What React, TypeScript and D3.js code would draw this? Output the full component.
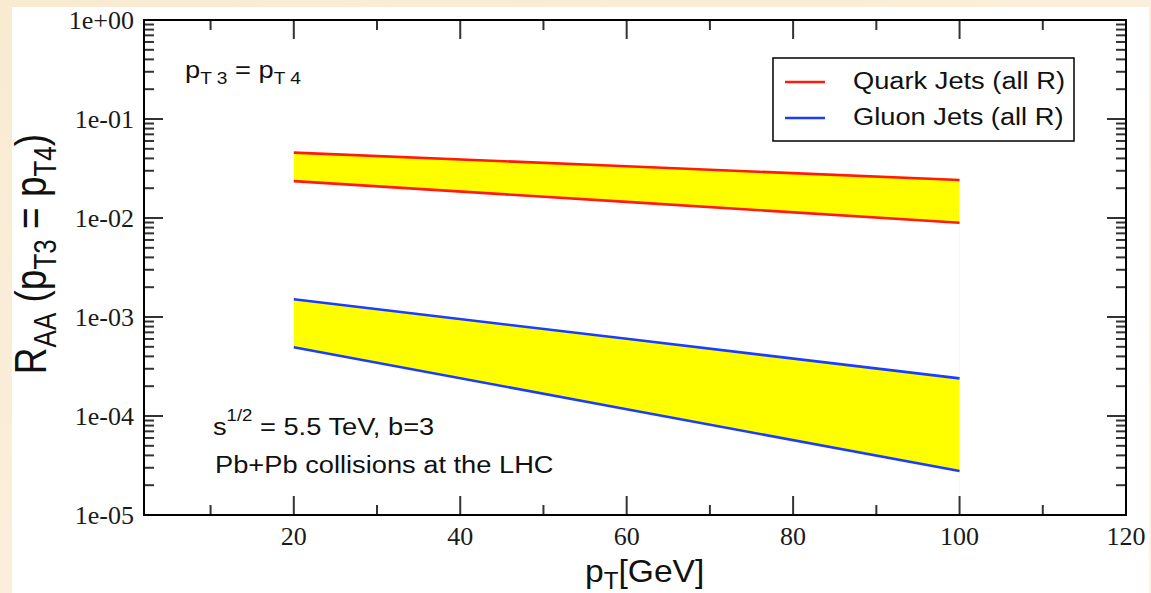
import React from "react";
import * as d3 from "d3";

// Transverse momentum points (GeV)
const ptValues = [20, 60, 100];
// Nuclear modification factor bands for p_T3 = p_T4
const quarkUpper = [0.0457, 0.0333, 0.0242];
const quarkLower = [0.0236, 0.01455, 0.00897];
const gluonUpper = [0.00151, 0.000602, 0.00024];
const gluonLower = [0.000494, 0.000117, 0.0000278];

const xMajorTicks = [20, 40, 60, 80, 100, 120];
const xMinorTicks = [10, 30, 50, 70, 90, 110];
const yDecades = [1e-5, 1e-4, 1e-3, 1e-2, 1e-1, 1];
const yTickLabels = ["1e-05", "1e-04", "1e-03", "1e-02", "1e-01", "1e+00"];

const W = 1151;
const H = 593;
const plot = { left: 144, right: 1126, top: 20, bottom: 515 };

const x = d3.scaleLinear().domain([2, 120]).range([plot.left, plot.right]);
const y = d3.scaleLog().domain([1e-5, 1]).range([plot.bottom, plot.top]);

const sans = "'Liberation Sans', Arial, sans-serif";
const serif = "'Liberation Serif', 'Times New Roman', serif";
// the sans-serif labels are set slightly wide
const stretch = 1.16;

type Band = { upper: number[]; lower: number[]; color: string };
const bands: Band[] = [
  { upper: quarkUpper, lower: quarkLower, color: "#ff1a0a" },
  { upper: gluonUpper, lower: gluonLower, color: "#1a3dff" },
];

function Wide({ x0, y0, children, size }: { x0: number; y0: number; size: number; children: React.ReactNode }) {
  return (
    <g transform={`translate(${x0},${y0}) scale(${stretch},1)`}>
      <text x={0} y={0} fontFamily={sans} fontSize={size} fill="#111">
        {children}
      </text>
    </g>
  );
}

export default function App() {
  const area = d3
    .area<number>()
    .x((_, i) => x(ptValues[i]))
    .y0((d) => y(d));
  const line = d3
    .line<number>()
    .x((_, i) => x(ptValues[i]))
    .y((d) => y(d));

  const minorY: number[] = [];
  yDecades.slice(0, -1).forEach((dec) => {
    for (let k = 2; k <= 9; k++) minorY.push(dec * k);
  });

  const tickColor = "#333";
  const majorLen = 19;
  const minorLen = 10;

  return (
    <svg
      width={W}
      height={H}
      style={{ position: "absolute", left: 0, top: 0 }}
      xmlns="http://www.w3.org/2000/svg"
    >
      <defs>
        <linearGradient id="paper" x1="0" y1="0" x2="1" y2="1">
          <stop offset="0" stopColor="#f9ead2" />
          <stop offset="1" stopColor="#fdf4e4" />
        </linearGradient>
      </defs>
      <rect x={0} y={0} width={W} height={H} fill="url(#paper)" />
      <rect x={12} y={7} width={1137} height={H - 7} fill="#ffffff" />

      {/* yellow bands */}
      {bands.map((b, i) => (
        <path
          key={"band" + i}
          d={area.y1((_, j) => y(b.upper[j]))(b.lower) || ""}
          fill="#ffff00"
        />
      ))}
      <line
        x1={x(100)}
        x2={x(100)}
        y1={y(quarkUpper[2])}
        y2={plot.bottom}
        stroke="#ffffa8"
        strokeWidth={1}
      />
      {bands.map((b, i) => (
        <g key={"lines" + i}>
          <path d={line(b.upper) || ""} fill="none" stroke={b.color} strokeWidth={2.6} />
          <path d={line(b.lower) || ""} fill="none" stroke={b.color} strokeWidth={2.6} />
        </g>
      ))}

      {/* ticks */}
      <g stroke={tickColor} strokeWidth={2}>
        {xMajorTicks.map((t) => (
          <g key={"xM" + t}>
            <line x1={x(t)} x2={x(t)} y1={plot.bottom} y2={plot.bottom - majorLen} />
            <line x1={x(t)} x2={x(t)} y1={plot.top} y2={plot.top + majorLen} />
          </g>
        ))}
        {xMinorTicks.map((t) => (
          <g key={"xm" + t}>
            <line x1={x(t)} x2={x(t)} y1={plot.bottom} y2={plot.bottom - minorLen} />
            <line x1={x(t)} x2={x(t)} y1={plot.top} y2={plot.top + minorLen} />
          </g>
        ))}
        {yDecades.map((t) => (
          <g key={"yM" + t}>
            <line x1={plot.left} x2={plot.left + majorLen} y1={y(t)} y2={y(t)} />
            <line x1={plot.right} x2={plot.right - majorLen} y1={y(t)} y2={y(t)} />
          </g>
        ))}
        {minorY.map((t) => (
          <g key={"ym" + t}>
            <line x1={plot.left} x2={plot.left + minorLen} y1={y(t)} y2={y(t)} />
            <line x1={plot.right} x2={plot.right - minorLen} y1={y(t)} y2={y(t)} />
          </g>
        ))}
      </g>

      {/* frame */}
      <rect
        x={plot.left}
        y={plot.top}
        width={plot.right - plot.left}
        height={plot.bottom - plot.top}
        fill="none"
        stroke="#000"
        strokeWidth={2}
      />

      {/* tick labels */}
      <g fontFamily={serif} fontSize={26} fill="#1a1a1a">
        {xMajorTicks.map((t) => (
          <text key={"xl" + t} x={x(t)} y={545} textAnchor="middle">
            {t}
          </text>
        ))}
        {yDecades.map((t, i) => (
          <text key={"yl" + t} x={134} y={y(t) + 9} textAnchor="end">
            {yTickLabels[i]}
          </text>
        ))}
      </g>

      {/* axis titles */}
      <g transform="translate(585,582) scale(1.05,1)">
        <text x={0} y={0} fontFamily={sans} fontSize={32} fill="#111">
          p<tspan dy={7} fontSize={23}>T</tspan>
          <tspan dy={-7}>[GeV]</tspan>
        </text>
      </g>
      <g transform="translate(46,254) scale(1.2,1) rotate(-90)">
        <text textAnchor="middle" fontFamily={sans} fontSize={37} fill="#111">
          R<tspan dy={8} fontSize={26}>AA</tspan>
          <tspan dy={-8}> (p</tspan>
          <tspan dy={8} fontSize={26}>T3</tspan>
          <tspan dy={-8}> = p</tspan>
          <tspan dy={8} fontSize={26}>T4</tspan>
          <tspan dy={-8}>)</tspan>
        </text>
      </g>

      {/* annotations */}
      <Wide x0={185} y0={78} size={23.5}>
        p<tspan dy={6} fontSize={16.5}>T 3</tspan>
        <tspan dy={-6}> = p</tspan>
        <tspan dy={6} fontSize={16.5}>T 4</tspan>
      </Wide>
      <Wide x0={213} y0={435} size={23.5}>
        s<tspan dy={-14} fontSize={16}>1/2</tspan>
        <tspan dy={14}> = 5.5 TeV, b=3</tspan>
      </Wide>
      <Wide x0={215} y0={473} size={23.5}>
        Pb+Pb collisions at the LHC
      </Wide>

      {/* legend */}
      <rect x={773} y={58} width={301} height={83} fill="#fff" stroke="#000" strokeWidth={1.5} />
      <line x1={785} x2={825} y1={82} y2={82} stroke="#ff1a0a" strokeWidth={2.6} />
      <line x1={785} x2={825} y1={118} y2={118} stroke="#1a3dff" strokeWidth={2.6} />
      <Wide x0={853} y0={89} size={23.5}>
        Quark Jets (all R)
      </Wide>
      <Wide x0={853} y0={125} size={23.5}>
        Gluon Jets (all R)
      </Wide>
    </svg>
  );
}
